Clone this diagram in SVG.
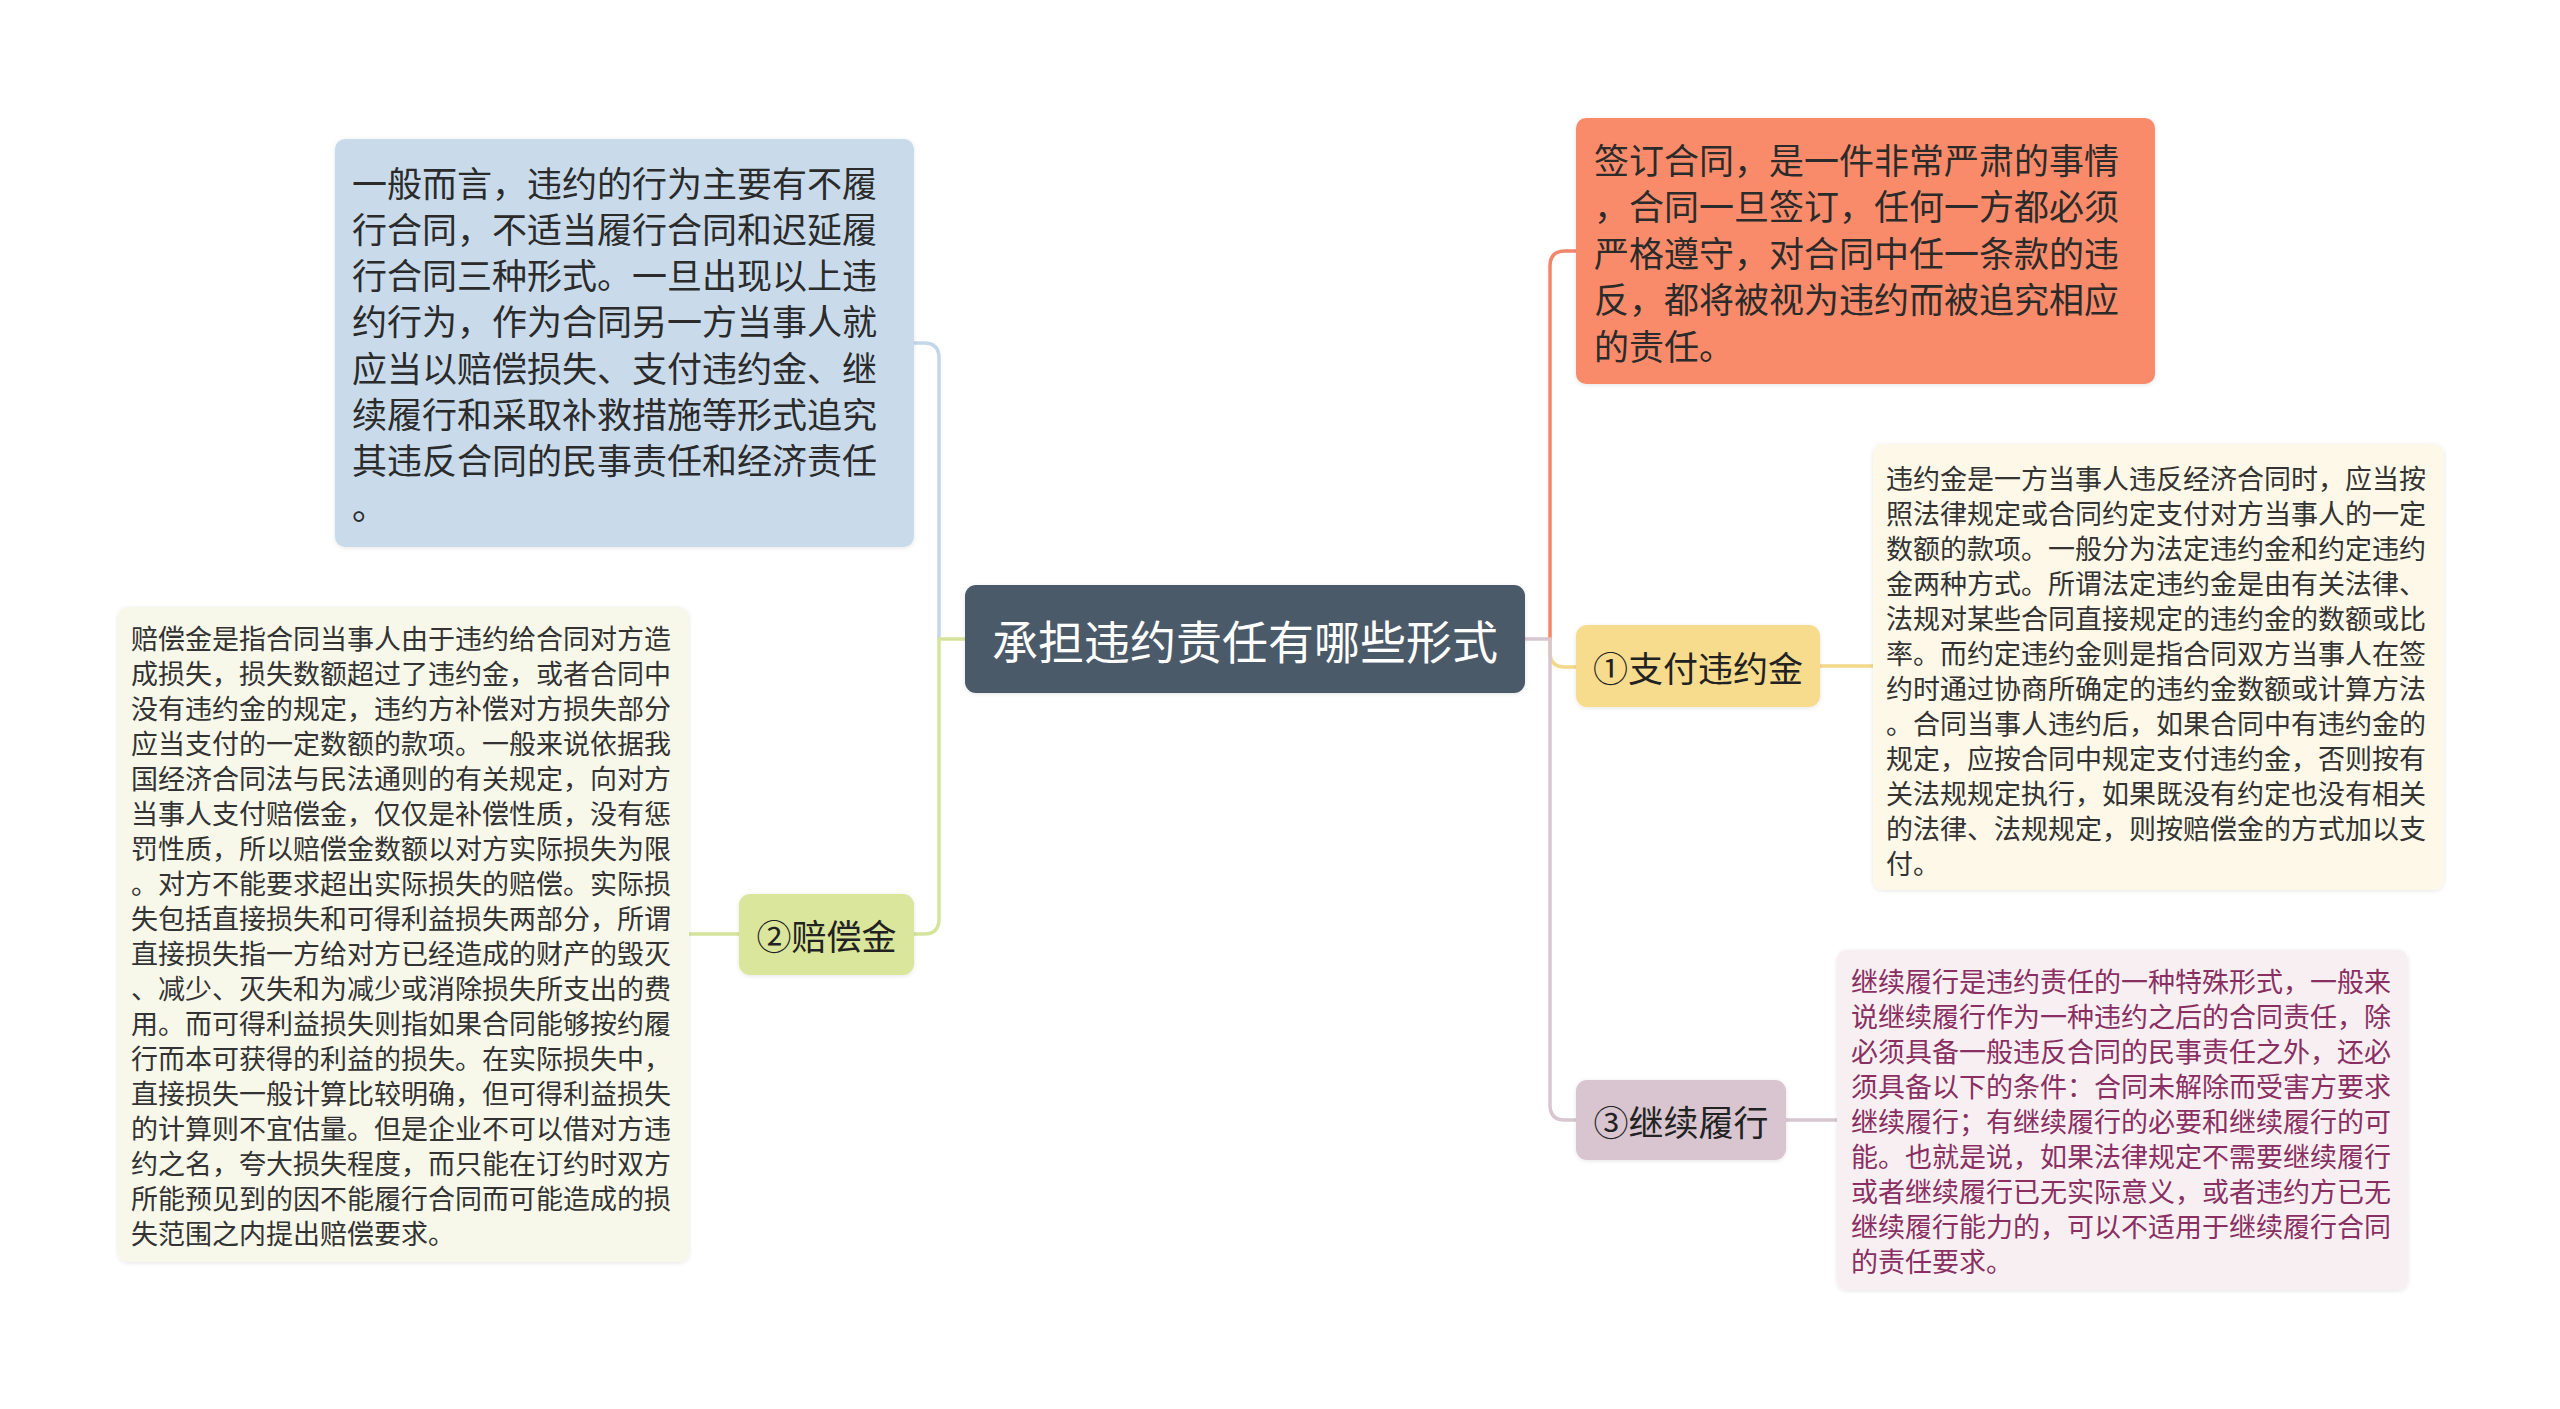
<svg xmlns="http://www.w3.org/2000/svg" width="2560" height="1409" viewBox="0 0 2560 1409">
<defs>
<filter id="sh" x="-5%" y="-5%" width="110%" height="110%">
<feDropShadow dx="0" dy="1" stdDeviation="2" flood-color="#000" flood-opacity="0.10"/>
</filter>
<style>
text{font-family:"Noto Sans CJK SC","Noto Sans",sans-serif;}
.big{font-size:35px;fill:#2b2b2b;}
.sm{font-size:27px;fill:#333;}
.pk{font-size:27px;fill:#8a2f62;}
.lbl{font-size:35px;fill:#222;text-anchor:middle;dominant-baseline:central;}
.ln{fill:none;stroke-width:3.5;stroke-linecap:round;stroke-linejoin:round;}
</style>
</defs>
<rect width="2560" height="1409" fill="#ffffff"/>
<g id="connectors">
<path class="ln" stroke="#c3d7ea" d="M939,639 V358 Q939,343 924,343 H914"/>
<path class="ln" stroke="#d6e49b" d="M965,639 H939 V919 Q939,934 924,934 H914"/>
<path class="ln" stroke="#d6e49b" d="M739,934 H689"/>
<path class="ln" stroke="#d8c6d0" d="M1525,639 H1550"/>
<path class="ln" stroke="#f4876a" d="M1550,639 V266 Q1550,251 1565,251 H1576"/>
<path class="ln" stroke="#f5d88a" d="M1550,639 V652 Q1550,667 1565,667 H1576"/>
<path class="ln" stroke="#d8c6d0" d="M1550,639 V1105 Q1550,1120 1565,1120 H1576"/>
<path class="ln" stroke="#f5d88a" d="M1820,666 H1873"/>
<path class="ln" stroke="#d8c6d0" d="M1786,1120 H1837"/>
</g>
<g id="root">
<rect x="965" y="585" width="560" height="108" rx="11" fill="#4b5a69" filter="url(#sh)"/>
<text x="1245" y="639" font-size="46" fill="#ffffff" text-anchor="middle" dominant-baseline="central">承担违约责任有哪些形式</text>
</g>
<g id="summary">
<rect x="335" y="139" width="579" height="408" rx="10" fill="#c9dbeb" filter="url(#sh)"/>
<g class="big" dominant-baseline="central">
<text x="352" y="181">一般而言，违约的行为主要有不履</text>
<text x="352" y="227">行合同，不适当履行合同和迟延履</text>
<text x="352" y="273">行合同三种形式。一旦出现以上违</text>
<text x="352" y="319">约行为，作为合同另一方当事人就</text>
<text x="352" y="366">应当以赔偿损失、支付违约金、继</text>
<text x="352" y="412">续履行和采取补救措施等形式追究</text>
<text x="352" y="458">其违反合同的民事责任和经济责任</text>
<text x="352" y="504">。</text>
</g>
</g>
<g id="intro">
<rect x="1576" y="118" width="579" height="266" rx="10" fill="#f98b6b" filter="url(#sh)"/>
<g class="big" dominant-baseline="central">
<text x="1594" y="158">签订合同，是一件非常严肃的事情</text>
<text x="1594" y="204">，合同一旦签订，任何一方都必须</text>
<text x="1594" y="251">严格遵守，对合同中任一条款的违</text>
<text x="1594" y="297">反，都将被视为违约而被追究相应</text>
<text x="1594" y="344">的责任。</text>
</g>
</g>
<g id="node1">
<rect x="1576" y="625" width="244" height="82" rx="11" fill="#f8dc8e" filter="url(#sh)"/>
<text class="lbl" x="1698" y="666">①支付违约金</text>
</g>
<g id="node1-detail">
<rect x="1873" y="444" width="571" height="446" rx="10" fill="#fdf8e7" filter="url(#sh)"/>
<g class="sm" dominant-baseline="central">
<text x="1886" y="477">违约金是一方当事人违反经济合同时，应当按</text>
<text x="1886" y="512">照法律规定或合同约定支付对方当事人的一定</text>
<text x="1886" y="547">数额的款项。一般分为法定违约金和约定违约</text>
<text x="1886" y="582">金两种方式。所谓法定违约金是由有关法律、</text>
<text x="1886" y="617">法规对某些合同直接规定的违约金的数额或比</text>
<text x="1886" y="652">率。而约定违约金则是指合同双方当事人在签</text>
<text x="1886" y="687">约时通过协商所确定的违约金数额或计算方法</text>
<text x="1886" y="722">。合同当事人违约后，如果合同中有违约金的</text>
<text x="1886" y="757">规定，应按合同中规定支付违约金，否则按有</text>
<text x="1886" y="792">关法规规定执行，如果既没有约定也没有相关</text>
<text x="1886" y="827">的法律、法规规定，则按赔偿金的方式加以支</text>
<text x="1886" y="862">付。</text>
</g>
</g>
<g id="node2">
<rect x="739" y="894" width="175" height="81" rx="11" fill="#dbe69d" filter="url(#sh)"/>
<text class="lbl" x="826.5" y="934">②赔偿金</text>
</g>
<g id="node2-detail">
<rect x="118" y="607" width="571" height="655" rx="10" fill="#f7f8ea" filter="url(#sh)"/>
<g class="sm" dominant-baseline="central">
<text x="131" y="637">赔偿金是指合同当事人由于违约给合同对方造</text>
<text x="131" y="672">成损失，损失数额超过了违约金，或者合同中</text>
<text x="131" y="707">没有违约金的规定，违约方补偿对方损失部分</text>
<text x="131" y="742">应当支付的一定数额的款项。一般来说依据我</text>
<text x="131" y="777">国经济合同法与民法通则的有关规定，向对方</text>
<text x="131" y="812">当事人支付赔偿金，仅仅是补偿性质，没有惩</text>
<text x="131" y="847">罚性质，所以赔偿金数额以对方实际损失为限</text>
<text x="131" y="882">。对方不能要求超出实际损失的赔偿。实际损</text>
<text x="131" y="917">失包括直接损失和可得利益损失两部分，所谓</text>
<text x="131" y="952">直接损失指一方给对方已经造成的财产的毁灭</text>
<text x="131" y="987">、减少、灭失和为减少或消除损失所支出的费</text>
<text x="131" y="1022">用。而可得利益损失则指如果合同能够按约履</text>
<text x="131" y="1057">行而本可获得的利益的损失。在实际损失中，</text>
<text x="131" y="1092">直接损失一般计算比较明确，但可得利益损失</text>
<text x="131" y="1127">的计算则不宜估量。但是企业不可以借对方违</text>
<text x="131" y="1162">约之名，夸大损失程度，而只能在订约时双方</text>
<text x="131" y="1197">所能预见到的因不能履行合同而可能造成的损</text>
<text x="131" y="1232">失范围之内提出赔偿要求。</text>
</g>
</g>
<g id="node3">
<rect x="1576" y="1080" width="210" height="80" rx="11" fill="#d8c5cf" filter="url(#sh)"/>
<text class="lbl" x="1681" y="1120">③继续履行</text>
</g>
<g id="node3-detail">
<rect x="1837" y="950" width="571" height="340" rx="10" fill="#f7eff2" filter="url(#sh)"/>
<g class="pk" dominant-baseline="central">
<text x="1851" y="980">继续履行是违约责任的一种特殊形式，一般来</text>
<text x="1851" y="1015">说继续履行作为一种违约之后的合同责任，除</text>
<text x="1851" y="1050">必须具备一般违反合同的民事责任之外，还必</text>
<text x="1851" y="1085">须具备以下的条件：合同未解除而受害方要求</text>
<text x="1851" y="1120">继续履行；有继续履行的必要和继续履行的可</text>
<text x="1851" y="1155">能。也就是说，如果法律规定不需要继续履行</text>
<text x="1851" y="1190">或者继续履行已无实际意义，或者违约方已无</text>
<text x="1851" y="1225">继续履行能力的，可以不适用于继续履行合同</text>
<text x="1851" y="1260">的责任要求。</text>
</g>
</g>
</svg>
